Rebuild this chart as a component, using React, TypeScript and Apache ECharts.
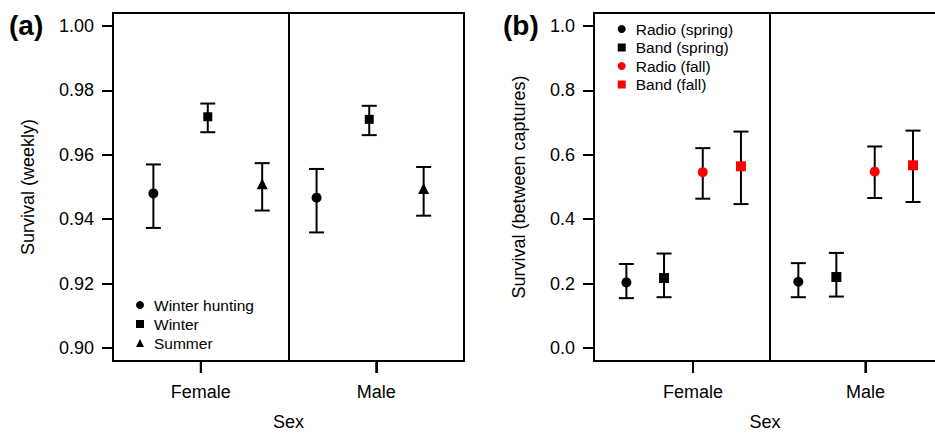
import { useEffect, useRef } from "react";
import * as echarts from "echarts";

// ---------- Panel (a): weekly survival by season ----------
const sexes = ["Female", "Male"];
const seasonNames = ["Winter hunting", "Winter", "Summer"];
const seasonSymbols = ["circle", "rect", "triangle"];
const seasonSymbolSizes = [10, 9, 11];
// x positions (Female = 1, Male = 2), per season: [Female, Male]
const seasonX = [
  [0.73, 1.66],
  [1.04, 1.96],
  [1.35, 2.27],
];
const seasonEst = [
  [0.948, 0.9467],
  [0.9718, 0.971],
  [0.951, 0.9495],
];
const seasonLo = [
  [0.9373, 0.9359],
  [0.967, 0.9661],
  [0.9427, 0.9411],
];
const seasonHi = [
  [0.957, 0.9556],
  [0.9759, 0.9752],
  [0.9574, 0.9562],
];
const sexTicksA = [1, 2];
const yTicksA = [0.9, 0.92, 0.94, 0.96, 0.98, 1.0];

// ---------- Panel (b): survival between captures ----------
const methodNames = ["Radio (spring)", "Band (spring)", "Radio (fall)", "Band (fall)"];
const methodSymbols = ["circle", "rect", "circle", "rect"];
const methodColors = ["#000000", "#000000", "#ff0000", "#ff0000"];
const methodX = [
  [0.684, 1.661],
  [0.898, 1.877],
  [1.118, 2.095],
  [1.335, 2.3125],
];
const methodEst = [
  [0.204, 0.206],
  [0.2175, 0.2206],
  [0.546, 0.5477],
  [0.5643, 0.5674],
];
const methodLo = [
  [0.155, 0.158],
  [0.158, 0.16],
  [0.4637, 0.4658],
  [0.447, 0.4535],
];
const methodHi = [
  [0.261, 0.2637],
  [0.2935, 0.2954],
  [0.6206, 0.6258],
  [0.672, 0.675],
];
const sexTicksB = [1.0625, 2.042];
const yTicksB = [0, 0.2, 0.4, 0.6, 0.8, 1.0];

const FONT = "'Liberation Sans', Arial, sans-serif";

const errorBarRender = (params: any, api: any) => {
  const x = api.value(0);
  const lo = api.value(1);
  const hi = api.value(2);
  const pLo = api.coord([x, lo]);
  const pHi = api.coord([x, hi]);
  const half = 7.5;
  const style = { stroke: "#000", lineWidth: 2, fill: null };
  return {
    type: "group",
    children: [
      { type: "line", shape: { x1: pLo[0], y1: pLo[1], x2: pHi[0], y2: pHi[1] }, style },
      { type: "line", shape: { x1: pLo[0] - half, y1: pLo[1], x2: pLo[0] + half, y2: pLo[1] }, style },
      { type: "line", shape: { x1: pHi[0] - half, y1: pHi[1], x2: pHi[0] + half, y2: pHi[1] }, style },
    ],
  };
};

// x-axis tick marks below the plot box, placed through the x scale
const xTickRender = (params: any, api: any) => {
  const cs = params.coordSys;
  const bottom = cs.y + cs.height;
  const px = api.coord([api.value(0), 0])[0];
  return {
    type: "line",
    shape: { x1: px, y1: bottom, x2: px, y2: bottom + 12 },
    style: { stroke: "#000", lineWidth: 2, fill: null },
  };
};

function sexLabel(ticks: number[]) {
  return (v: number) => {
    let best = 0;
    for (let i = 1; i < ticks.length; i++) {
      if (Math.abs(ticks[i] - v) < Math.abs(ticks[best] - v)) best = i;
    }
    return sexes[best];
  };
}

const axisLineStyle = { show: true, onZero: false, lineStyle: { color: "#000", width: 2 } };

function xAxisDef(gridIndex: number, ticks: number[], namePad: number[]) {
  return {
    type: "value",
    gridIndex,
    position: "bottom",
    min: 0.5,
    max: 2.5,
    name: "Sex",
    nameLocation: "middle",
    nameGap: 52,
    nameTextStyle: { fontSize: 18, color: "#000", fontFamily: FONT, padding: namePad },
    axisLine: axisLineStyle,
    splitLine: { show: false },
    axisTick: {
      show: true,
      inside: false,
      customValues: ticks,
      length: 12,
      lineStyle: { color: "#000", width: 2 },
    },
    axisLabel: {
      customValues: ticks,
      formatter: sexLabel(ticks),
      fontSize: 18,
      color: "#000",
      fontFamily: FONT,
      margin: 22,
    },
  };
}

function yAxisDef(
  gridIndex: number,
  min: number,
  max: number,
  ticks: number[],
  digits: number,
  name: string,
  nameGap: number
) {
  return {
    type: "value",
    gridIndex,
    position: "left",
    min,
    max,
    name,
    nameLocation: "middle",
    nameGap,
    nameTextStyle: { fontSize: 18, color: "#000", fontFamily: FONT },
    axisLine: axisLineStyle,
    splitLine: { show: false },
    axisTick: {
      show: true,
      inside: false,
      customValues: ticks,
      length: 11,
      lineStyle: { color: "#000", width: 2 },
    },
    axisLabel: {
      customValues: ticks,
      formatter: (v: number) => v.toFixed(digits),
      fontSize: 18,
      color: "#000",
      fontFamily: FONT,
      margin: 19,
    },
  };
}

const dividerLine = {
  silent: true,
  symbol: "none",
  label: { show: false },
  lineStyle: { color: "#000", width: 2, type: "solid" },
  data: [{ xAxis: 1.5 }],
};

export default function App() {
  const ref = useRef<HTMLDivElement>(null);

  useEffect(() => {
    document.body.style.margin = "0";
    if (!ref.current) return;
    const chart = echarts.init(ref.current, null, { renderer: "svg" });

    const series: any[] = [];

    // Panel (a)
    seasonNames.forEach((name, i) => {
      series.push({
        type: "custom",
        xAxisIndex: 0,
        yAxisIndex: 0,
        renderItem: errorBarRender,
        encode: { x: 0, y: [1, 2] },
        data: sexes.map((_, j) => [seasonX[i][j], seasonLo[i][j], seasonHi[i][j]]),
        z: 2,
        silent: true,
      });
      series.push({
        type: "scatter",
        name,
        xAxisIndex: 0,
        yAxisIndex: 0,
        symbol: seasonSymbols[i],
        symbolSize: seasonSymbolSizes[i],
        itemStyle: { color: "#000", opacity: 1 },
        data: sexes.map((_, j) => [seasonX[i][j], seasonEst[i][j]]),
        z: 3,
        silent: true,
        ...(i === 0 ? { markLine: dividerLine } : {}),
      });
    });

    // Panel (b)
    methodNames.forEach((name, i) => {
      series.push({
        type: "custom",
        xAxisIndex: 1,
        yAxisIndex: 1,
        renderItem: errorBarRender,
        encode: { x: 0, y: [1, 2] },
        data: sexes.map((_, j) => [methodX[i][j], methodLo[i][j], methodHi[i][j]]),
        z: 2,
        silent: true,
      });
      series.push({
        type: "scatter",
        name,
        xAxisIndex: 1,
        yAxisIndex: 1,
        symbol: methodSymbols[i],
        symbolSize: 10,
        itemStyle: { color: methodColors[i], opacity: 1 },
        data: sexes.map((_, j) => [methodX[i][j], methodEst[i][j]]),
        z: 3,
        silent: true,
        ...(i === 0 ? { markLine: dividerLine } : {}),
      });
    });

    // x tick marks (one custom series per panel)
    [sexTicksA, sexTicksB].forEach((ticks, g) => {
      series.push({
        type: "custom",
        xAxisIndex: g,
        yAxisIndex: g,
        renderItem: xTickRender,
        encode: { x: 0 },
        clip: false,
        data: ticks.map((t) => [t]),
        z: 10,
        silent: true,
      });
    });

    const legendText = { fontSize: 15.5, color: "#000", fontFamily: FONT, padding: [0, 0, 0, 5] };

    chart.setOption({
      animation: false,
      backgroundColor: "#fff",
      textStyle: { fontFamily: FONT },
      grid: [
        { left: 113, top: 13, width: 351, height: 350, show: true, borderColor: "#000", borderWidth: 2, backgroundColor: "transparent" },
        { left: 594, top: 13, width: 352, height: 350, show: true, borderColor: "#000", borderWidth: 2, backgroundColor: "transparent" },
      ],
      xAxis: [xAxisDef(0, sexTicksA, [0, 0, 0, 0]), xAxisDef(1, sexTicksB, [0, 10, 0, 0])],
      yAxis: [
        yAxisDef(0, 0.896, 1.004, yTicksA, 2, "Survival (weekly)", 76),
        yAxisDef(1, -0.04, 1.04, yTicksB, 1, "Survival (between captures)", 66),
      ],
      legend: [
        {
          orient: "vertical",
          left: 136,
          top: 295.5,
          padding: 0,
          itemGap: 0,
          itemWidth: 8,
          itemHeight: 8,
          selectedMode: false,
          textStyle: { ...legendText, lineHeight: 19 },
          data: seasonNames.map((n, i) => ({ name: n, icon: seasonSymbols[i] })),
        },
        {
          orient: "vertical",
          left: 617.7,
          top: 19.75,
          padding: 0,
          itemGap: 0,
          itemWidth: 8,
          itemHeight: 8,
          selectedMode: false,
          textStyle: { ...legendText, lineHeight: 18.5 },
          data: methodNames.map((n, i) => ({ name: n, icon: methodSymbols[i] })),
        },
      ],
      graphic: [
        { type: "text", left: 9, top: 11, style: { text: "(a)", fontSize: 28, fontWeight: "bold", fill: "#000", fontFamily: FONT } },
        { type: "text", left: 503, top: 11, style: { text: "(b)", fontSize: 28, fontWeight: "bold", fill: "#000", fontFamily: FONT } },
      ],
      series,
    });

    return () => chart.dispose();
  }, []);

  return (
    <div style={{ width: 935, height: 436, overflow: "hidden", position: "relative" }}>
      <div ref={ref} style={{ width: 960, height: 436 }} />
    </div>
  );
}
